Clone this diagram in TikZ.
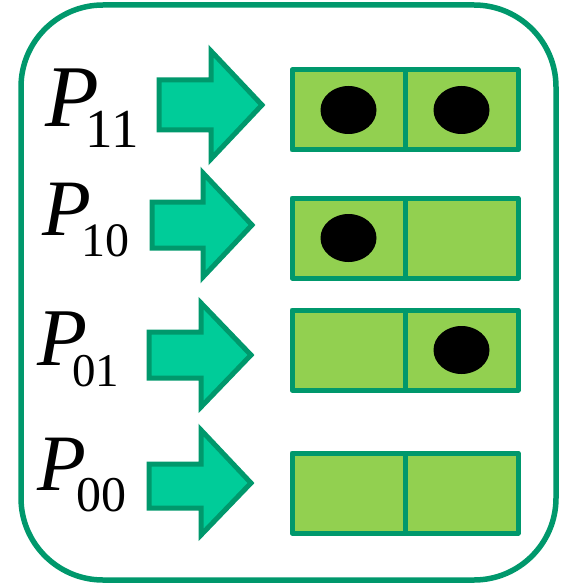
\documentclass[tikz,border=0pt]{standalone}
\usepackage{fontspec}
\setmainfont{Liberation Serif}
\definecolor{frame}{RGB}{0,152,108}
\definecolor{cellfill}{RGB}{146,208,80}
\definecolor{arrowfill}{RGB}{0,204,153}
\newcommand{\plab}[4]{{\fontsize{#1}{#1}\selectfont\itshape P}\kern#4pt\raisebox{-21pt}{\fontsize{#2}{#2}\selectfont #3}}
\tikzset{
  cell/.style={draw=frame,fill=cellfill,line width=5pt,line join=round,minimum width=113pt,minimum height=80pt,inner sep=0pt},
  blockarrow/.style={draw=frame,fill=arrowfill,line width=5pt,line join=miter},
  dot/.style={fill=black},
  lab/.style={anchor=base west,inner sep=0pt}
}
\begin{document}
\begin{tikzpicture}[x=1pt,y=-1pt]
\useasboundingbox (0,0) rectangle (560,585);
\draw[frame,line width=5.5pt,rounded corners=82pt] (21,5) rectangle (556,580);
% labels
\node[lab] (p11) at (45,127) {\plab{88}{55}{11}{-13}};
\node[lab] (p10) at (42,235) {\plab{80}{48}{10}{-10}};
\node[lab] (p01) at (37,365) {\plab{82}{47}{01}{-15}};
\node[lab] (p00) at (37,490) {\plab{80}{50}{00}{-10}};
% arrows
\draw[blockarrow] (159,80) -- (211,80) -- (211,51) -- (262,105) -- (211,159) -- (211,130) -- (159,130) -- cycle;
\draw[blockarrow] (152,202) -- (203,202) -- (203,173) -- (252,225) -- (203,277) -- (203,248) -- (152,248) -- cycle;
\draw[blockarrow] (149,332) -- (201,332) -- (201,303) -- (251,355) -- (201,407) -- (201,378) -- (149,378) -- cycle;
\draw[blockarrow] (149,464) -- (201,464) -- (201,430) -- (251,483) -- (201,535) -- (201,508) -- (149,508) -- cycle;
% registers
\node[cell] (r11a) at (348.5,110) {};
\node[cell] (r11b) at (461.5,110) {};
\node[cell] (r10a) at (348.5,238) {};
\node[cell] (r10b) at (461.5,238) {};
\node[cell] (r01a) at (348.5,350) {};
\node[cell] (r01b) at (461.5,350) {};
\node[cell] (r00a) at (348.5,493) {};
\node[cell] (r00b) at (461.5,493) {};
% particles
\fill[dot] (r11a.center) ellipse (28pt and 24pt);
\fill[dot] (r11b.center) ellipse (28pt and 24pt);
\fill[dot] (r10a.center) ellipse (28pt and 24pt);
\fill[dot] (r01b.center) ellipse (28pt and 24pt);
\end{tikzpicture}
\end{document}
